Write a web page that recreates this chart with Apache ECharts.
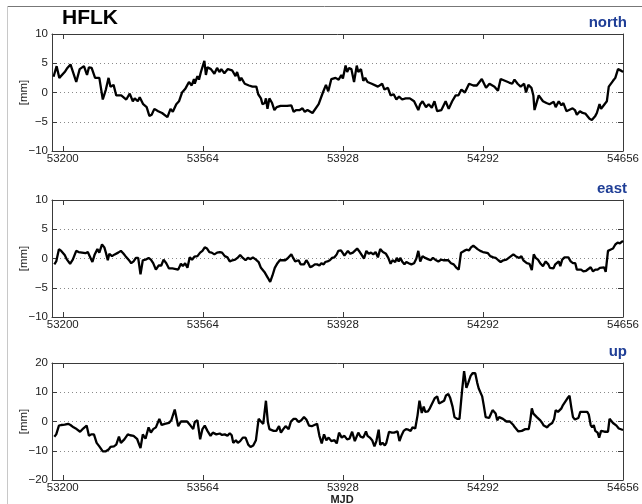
<!DOCTYPE html>
<html><head><meta charset="utf-8">
<script src="https://cdn.jsdelivr.net/npm/echarts@6/dist/echarts.min.js"></script>
<style>html,body{margin:0;padding:0;background:#fff}#c{width:642px;height:504px}</style>
</head><body><div id="c"></div>
<script>
const stationName = 'HFLK';
const panelNames = ['north', 'east', 'up'];
const xTicks = [53200, 53564, 53928, 54292, 54656];
const xMin = 53172, xMax = 54656;
const yUnit = '[mm]';
const xName = 'MJD';
const yRanges = [[-10, 10, 5], [-10, 10, 5], [-20, 20, 10]];

const northDays = [53176,53184,53191,53205,53212,53220,53235,53244,53255,53263,53268,53275,53284,53295,53304,53312,53319,53324,53332,53339,53352,53365,53374,53382,53387,53395,53400,53409,53418,53425,53431,53438,53448,53458,53472,53475,53480,53486,53495,53502,53510,53519,53528,53535,53541,53543,53550,53554,53559,53568,53572,53576,53585,53594,53601,53607,53612,53620,53629,53640,53649,53653,53660,53664,53673,53684,53693,53698,53703,53708,53715,53719,53725,53728,53732,53737,53744,53750,53756,53766,53783,53794,53800,53807,53816,53823,53829,53836,53849,53865,53876,53884,53890,53898,53909,53917,53924,53928,53935,53939,53944,53950,53957,53964,53968,53975,53981,53986,53992,54003,54019,54030,54036,54045,54052,54060,54067,54074,54082,54091,54102,54113,54124,54129,54135,54144,54151,54159,54166,54173,54184,54195,54203,54212,54221,54228,54236,54245,54256,54267,54276,54289,54300,54309,54322,54331,54338,54349,54360,54368,54374,54382,54390,54399,54404,54410,54418,54423,54426,54437,54448,54457,54465,54476,54481,54489,54496,54501,54509,54514,54525,54531,54536,54544,54551,54558,54569,54575,54584,54588,54595,54599,54608,54614,54619,54630,54636,54643,54652,54656];
const northVals = [2.7,4.5,2.5,3.5,4.2,4.8,1.8,4.0,4.5,3.0,4.3,4.2,2.5,2.5,-1.2,0.5,2.5,1.0,1.3,-0.5,-0.5,-1.2,-0.2,-1.5,-1.0,-1.5,-0.8,-2.0,-2.5,-4.0,-3.8,-2.8,-3.2,-3.5,-4.2,-4.3,-2.8,-3.3,-2.0,-1.5,0.0,0.7,1.8,1.2,2.3,1.5,2.8,2.2,3.5,5.4,3.0,4.3,4.0,3.2,4.2,3.5,4.0,3.3,4.0,3.8,2.8,3.5,2.0,2.5,1.5,1.2,1.0,0.8,1.0,-0.3,-1.0,-2.0,-1.8,-1.0,-2.8,-1.0,-1.8,-3.0,-2.5,-2.3,-2.3,-2.2,-3.3,-3.0,-3.0,-2.7,-3.3,-3.0,-3.5,-2.0,0.0,1.3,0.2,2.3,2.5,2.2,3.0,2.4,4.6,3.5,4.2,4.0,1.8,4.6,3.5,4.0,2.0,2.5,1.8,1.5,1.0,1.5,0.5,0.8,-0.5,-0.3,-1.2,-0.7,-1.2,-1.0,-1.0,-1.5,-3.0,-2.0,-1.5,-2.5,-2.0,-2.6,-1.5,-3.2,-3.0,-1.5,-2.8,-1.5,-0.5,-0.5,0.5,0.0,1.5,1.2,1.2,2.3,0.8,1.5,1.0,0.3,2.3,2.0,1.7,1.5,2.2,1.5,1.0,1.5,0.0,1.3,0.8,-0.5,-3.0,-0.5,-1.5,-1.8,-2.0,-1.6,-2.5,-1.5,-2.2,-1.8,-3.2,-3.3,-2.7,-3.0,-3.8,-3.2,-3.5,-3.6,-4.5,-4.7,-4.0,-3.5,-2.0,-2.8,-2.0,-1.5,1.0,2.0,2.5,4.0,3.7,3.5];

const eastData = [[53178,-1.0],[53183,-0.5],[53190,1.6],[53196,1.3],[53205,0.6],[53211,-0.2],[53219,-0.9],[53226,-0.2],[53235,1.3],[53241,1.1],[53250,1.0],[53259,0.9],[53265,1.1],[53270,0.4],[53277,-0.6],[53283,0.7],[53290,1.6],[53295,1.0],[53302,2.4],[53308,1.9],[53312,1.0],[53317,-0.3],[53321,0.8],[53328,0.4],[53335,0.7],[53344,1.0],[53351,1.3],[53357,0.9],[53363,0.4],[53371,-0.2],[53378,-0.8],[53384,-0.5],[53390,0.1],[53396,0.1],[53402,-2.7],[53408,-0.3],[53415,-0.2],[53423,0.1],[53429,-0.2],[53435,-0.8],[53442,-1.9],[53449,-1.2],[53456,-1.2],[53462,-0.2],[53469,-0.8],[53476,-1.7],[53485,-1.7],[53494,-1.8],[53500,-1.9],[53507,-0.9],[53512,-1.3],[53518,-0.8],[53524,-1.6],[53530,0.2],[53536,-0.2],[53542,0.3],[53550,0.4],[53557,1.0],[53563,1.3],[53569,1.9],[53575,1.7],[53581,1.1],[53587,1.0],[53594,0.7],[53601,1.0],[53608,1.1],[53614,1.0],[53621,0.4],[53628,0.2],[53634,-0.5],[53641,-0.3],[53648,-0.2],[53654,0.1],[53661,0.6],[53668,0.1],[53675,-0.3],[53681,0.1],[53688,-0.1],[53694,0.2],[53702,-0.2],[53709,-0.6],[53715,-1.6],[53724,-2.3],[53733,-3.3],[53739,-4.0],[53745,-2.9],[53751,-1.6],[53758,-0.8],[53764,-0.3],[53771,-0.3],[53778,-0.3],[53784,0.0],[53789,0.1],[53794,0.7],[53798,0.2],[53804,-0.5],[53809,-0.8],[53813,-0.3],[53818,-1.0],[53822,-1.3],[53827,-1.0],[53833,-0.3],[53838,-0.8],[53843,-1.5],[53849,-1.3],[53855,-1.0],[53861,-1.0],[53867,-1.2],[53872,-0.8],[53878,-1.0],[53882,-0.6],[53888,-0.5],[53894,-0.3],[53900,0.1],[53906,0.2],[53912,0.7],[53916,1.3],[53923,1.4],[53927,1.0],[53932,0.5],[53941,1.3],[53947,0.8],[53954,1.0],[53959,0.8],[53965,1.7],[53972,1.1],[53977,1.1],[53983,0.0],[53989,1.3],[53995,0.8],[54001,1.0],[54007,0.7],[54013,1.1],[54019,0.2],[54025,1.6],[54032,1.1],[54040,0.8],[54046,0.1],[54052,-0.9],[54057,-0.3],[54064,-0.6],[54068,0.1],[54073,-0.5],[54077,0.1],[54082,-0.5],[54088,-1.0],[54093,-0.6],[54099,-0.8],[54106,-1.0],[54113,-0.8],[54119,0.0],[54124,1.3],[54129,-0.5],[54135,0.4],[54142,0.1],[54149,-0.1],[54156,-0.3],[54162,0.1],[54168,-0.2],[54176,-0.5],[54183,-0.2],[54189,-0.3],[54195,-0.3],[54202,-0.3],[54209,-0.8],[54216,-1.0],[54222,-1.5],[54229,-1.9],[54235,1.0],[54243,1.3],[54249,1.5],[54256,1.4],[54261,1.9],[54267,2.2],[54272,2.0],[54278,1.6],[54285,1.3],[54292,1.1],[54299,1.0],[54305,0.9],[54311,0.4],[54319,0.2],[54325,0.1],[54332,-0.3],[54338,-0.6],[54345,-0.3],[54353,-0.2],[54359,0.1],[54365,0.4],[54371,0.7],[54377,0.4],[54381,0.5],[54386,0.1],[54392,0.4],[54397,-0.3],[54401,-0.2],[54406,-0.8],[54413,-0.9],[54419,-2.0],[54424,0.7],[54429,0.1],[54435,-0.2],[54442,-0.9],[54448,-1.3],[54455,-0.5],[54462,-1.0],[54466,-1.6],[54471,-1.3],[54475,-1.7],[54480,-1.0],[54484,-1.3],[54489,-0.5],[54493,-1.3],[54498,-0.2],[54504,0.2],[54509,0.2],[54514,0.2],[54520,-0.5],[54526,-0.8],[54532,-0.8],[54536,-1.9],[54540,-2.2],[54547,-1.9],[54553,-2.2],[54560,-2.1],[54566,-1.8],[54572,-1.5],[54578,-2.2],[54584,-1.9],[54590,-1.9],[54596,-1.6],[54600,-1.7],[54607,-1.5],[54611,-2.3],[54617,1.3],[54623,1.5],[54630,1.7],[54636,2.4],[54642,2.7],[54648,2.6],[54652,2.9],[54656,3.0]];

const upData = [[53178,-5.2],[53183,-4.4],[53190,-1.4],[53196,-1.2],[53205,-1.1],[53214,-0.8],[53220,-1.2],[53228,-2.0],[53236,-2.6],[53245,-3.5],[53253,-2.4],[53262,-1.4],[53268,-4.9],[53274,-4.4],[53281,-4.4],[53288,-7.3],[53295,-8.5],[53304,-10.2],[53312,-10.2],[53319,-9.6],[53324,-8.7],[53333,-8.5],[53339,-7.9],[53346,-5.2],[53351,-7.3],[53360,-6.1],[53369,-4.4],[53375,-4.7],[53384,-4.9],[53393,-5.9],[53402,-9.1],[53408,-4.4],[53415,-5.9],[53423,-2.0],[53429,-3.8],[53435,-2.6],[53442,-2.0],[53451,0.9],[53457,-1.2],[53465,-0.8],[53469,-1.2],[53476,-0.5],[53482,0.4],[53491,4.1],[53500,-1.6],[53507,0.0],[53514,0.0],[53523,0.0],[53532,-1.4],[53539,-2.6],[53543,-0.2],[53550,0.4],[53557,-6.1],[53563,-2.6],[53569,-1.4],[53576,-3.2],[53584,-4.9],[53590,-3.8],[53599,-4.4],[53608,-4.1],[53614,-4.6],[53621,-4.4],[53628,-4.9],[53634,-4.0],[53639,-4.7],[53643,-7.3],[53650,-6.4],[53655,-7.3],[53661,-6.7],[53668,-5.5],[53675,-5.5],[53682,-7.9],[53688,-8.7],[53695,-8.2],[53702,-6.4],[53709,0.9],[53715,0.0],[53721,-0.8],[53728,7.1],[53733,-0.2],[53737,-2.6],[53742,-2.0],[53748,-3.2],[53755,-3.2],[53762,-1.6],[53767,-3.8],[53773,-2.6],[53779,-1.6],[53787,-2.6],[53793,0.0],[53800,0.9],[53806,0.9],[53813,-0.2],[53820,0.4],[53827,1.5],[53833,0.7],[53840,-1.4],[53847,-1.6],[53854,-1.2],[53861,-0.8],[53867,-4.9],[53873,-7.5],[53879,-4.4],[53885,-6.4],[53891,-5.5],[53898,-6.7],[53906,-6.4],[53912,-7.5],[53918,-3.8],[53925,-5.5],[53932,-4.9],[53939,-6.1],[53945,-5.9],[53952,-3.5],[53959,-6.7],[53968,-3.8],[53974,-5.2],[53981,-5.5],[53988,-3.4],[53992,-4.9],[53998,-5.5],[54004,-6.4],[54010,-8.5],[54015,-6.7],[54021,-2.8],[54025,-8.0],[54031,-7.3],[54037,-8.2],[54041,-7.3],[54048,-3.5],[54055,-3.8],[54061,-3.8],[54066,-4.4],[54070,-3.4],[54075,-6.7],[54080,-4.9],[54086,-3.2],[54092,-2.6],[54098,-2.8],[54104,-3.2],[54109,-2.0],[54116,-2.4],[54122,2.1],[54127,7.1],[54133,2.9],[54138,5.1],[54142,3.3],[54149,3.5],[54154,4.5],[54159,5.9],[54167,8.0],[54173,8.6],[54178,6.2],[54184,6.6],[54191,7.1],[54196,8.9],[54202,9.4],[54207,8.0],[54213,5.1],[54218,1.5],[54225,0.9],[54231,0.9],[54238,10.9],[54243,17.2],[54249,11.5],[54254,13.3],[54260,15.6],[54265,16.5],[54272,16.5],[54277,13.3],[54281,11.3],[54286,10.9],[54290,8.6],[54294,5.6],[54299,1.5],[54303,2.1],[54308,1.2],[54312,2.4],[54317,3.9],[54321,4.5],[54325,2.7],[54329,0.4],[54334,1.5],[54338,1.2],[54344,0.9],[54348,0.4],[54353,0.0],[54357,-0.5],[54362,0.0],[54366,-0.2],[54371,-1.2],[54375,-2.0],[54379,-2.6],[54384,-3.4],[54388,-2.8],[54393,-3.2],[54397,-2.9],[54402,-2.6],[54406,-2.8],[54411,-2.6],[54415,0.4],[54419,4.5],[54423,2.7],[54428,3.3],[54432,1.5],[54437,2.1],[54441,0.4],[54446,-0.5],[54450,-1.4],[54455,-0.8],[54459,-2.0],[54464,-1.2],[54468,-1.4],[54472,-0.5],[54477,0.9],[54481,3.9],[54487,3.3],[54491,2.7],[54496,4.5],[54500,5.6],[54506,6.8],[54512,8.0],[54517,8.8],[54522,4.5],[54526,1.5],[54531,0.7],[54535,0.9],[54540,1.2],[54545,3.3],[54549,3.1],[54554,3.3],[54558,3.5],[54563,3.3],[54567,2.4],[54572,-1.2],[54576,-2.0],[54580,-1.2],[54584,-3.2],[54590,-3.8],[54594,-5.5],[54599,-3.2],[54603,-2.6],[54608,-3.5],[54612,-3.4],[54617,-3.5],[54621,0.9],[54625,0.4],[54630,-0.5],[54634,-0.8],[54639,-1.4],[54645,-2.4],[54650,-2.8],[54656,-2.9]];

const northData = northDays.map((d, i) => [d, northVals[i]]);
const seriesData = [northData, eastData, upData];

const FONT = 'Liberation Sans, Arial, Helvetica, sans-serif';
const AX = '#3a3a3a';
const gridLeft = 52, gridWidth = 580;
const gridTops = [34, 200, 363];
const gridH = 117;
const minus = v => String(v).replace('-', '\u2212');

const grids = [], xAxes = [], yAxes = [], series = [], graphics = [];
gridTops.forEach((top, i) => {
  grids.push({ left: gridLeft, width: gridWidth, top: top, height: gridH, containLabel: false });
  const common = { gridIndex: i, type: 'value', min: xMin, max: xMax, splitLine: { show: false },
    axisLine: { show: true, onZero: false, lineStyle: { color: AX, width: 1 } } };
  xAxes.push(Object.assign({}, common, { position: 'bottom',
    axisTick: { show: true, inside: true, length: 5, customValues: xTicks, lineStyle: { color: AX } },
    axisLabel: { show: true, customValues: xTicks, formatter: v => String(v), color: '#222', fontSize: 11.5, fontFamily: FONT, margin: 2 } }));
  xAxes.push(Object.assign({}, common, { position: 'top',
    axisTick: { show: true, inside: true, length: 5, customValues: xTicks, lineStyle: { color: AX } },
    axisLabel: { show: false } }));
  const [ymin, ymax, yint] = yRanges[i];
  const ycommon = { gridIndex: i, type: 'value', min: ymin, max: ymax, interval: yint,
    axisLine: { show: true, onZero: false, lineStyle: { color: AX, width: 1 } },
    axisTick: { show: true, inside: true, length: 5, lineStyle: { color: AX } } };
  yAxes.push(Object.assign({}, ycommon, { position: 'left',
    axisLabel: { formatter: minus, color: '#222', fontSize: 11.5, fontFamily: FONT, margin: 4 },
    splitLine: { show: true, showMinLine: false, showMaxLine: false, lineStyle: { type: [1, 3], color: '#8a8a8a', width: 1 } },
    name: yUnit, nameLocation: 'middle', nameGap: 22, nameRotate: 90, nameMoveOverlap: false,
    nameTextStyle: { color: '#222', fontSize: 11.5, fontFamily: FONT } }));
  yAxes.push(Object.assign({}, ycommon, { position: 'right', axisLabel: { show: false }, splitLine: { show: false } }));
  series.push({ type: 'line', xAxisIndex: 2 * i, yAxisIndex: 2 * i, data: seriesData[i],
    showSymbol: false, symbol: 'none', lineStyle: { color: '#000', width: 2.3 }, z: 5, silent: true });
  graphics.push({ type: 'text', right: 642 - 627, top: top - 19,
    style: { text: panelNames[i], fill: '#1f3e96', font: 'bold 15px ' + FONT } });
});

graphics.push({ type: 'line', shape: { x1: 7, y1: 6.5, x2: 642, y2: 6.5 }, style: { stroke: '#777', lineWidth: 1 } });
graphics.push({ type: 'line', shape: { x1: 7.5, y1: 6, x2: 7.5, y2: 504 }, style: { stroke: '#c8c8c8', lineWidth: 1 } });
graphics.push({ type: 'text', left: 62, top: 8, style: { text: stationName, fill: '#000', font: 'bold 21px ' + FONT } });
graphics.push({ type: 'text', x: gridLeft + gridWidth / 2, y: 500,
  style: { text: xName, fill: '#222', font: 'bold 11px ' + FONT, align: 'center', verticalAlign: 'middle' } });

const chart = echarts.init(document.getElementById('c'), null, { renderer: 'canvas' });
chart.setOption({
  animation: false,
  backgroundColor: '#fff',
  grid: grids, xAxis: xAxes, yAxis: yAxes, series: series, graphic: graphics
});
</script>
</body></html>
